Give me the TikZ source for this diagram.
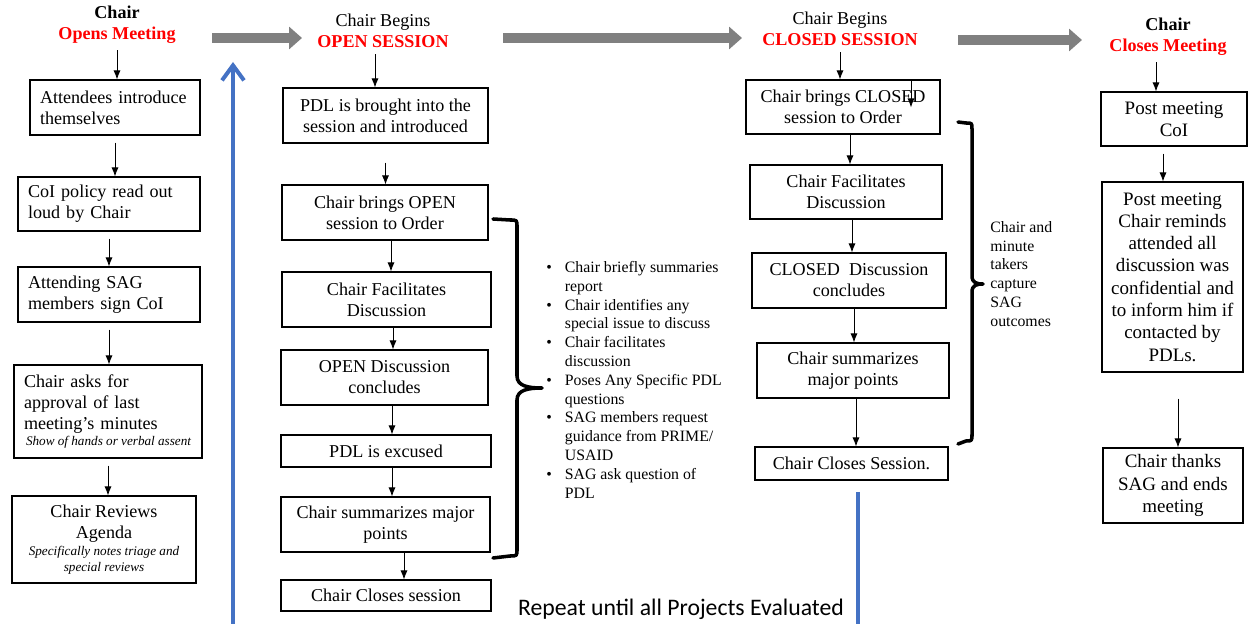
\documentclass[tikz,border=0pt]{standalone}
\usepackage{fontspec}
\setmainfont{Liberation Serif}
\newfontfamily\repeatfont{Carlito}
\usetikzlibrary{arrows.meta}
\definecolor{loopblue}{HTML}{4472C4}
\newcommand\aside[1]{{\fontsize{7.5}{9}\selectfont\itshape\spaceskip=0pt\xspaceskip=0pt #1}}

\begin{document}
\begin{tikzpicture}[x=0.02cm,y=-0.02cm,>={Latex[length=1.8mm,width=1.4mm]},
  box/.style={draw,line width=0.6pt,align=center,inner sep=1pt,font=\fontsize{10.3}{12}\selectfont},
  lbox/.style={box,align=left,inner xsep=0.2cm},
  wide/.style={box,font=\fontsize{10.8}{12.7}\selectfont},
  head/.style={align=center,font=\fontsize{10.3}{12}\selectfont},
  note/.style={align=left,inner sep=0pt,font=\fontsize{9}{10.7}\selectfont},
  flow/.style={->,line width=0.5pt},
  gapflow/.style={flow,shorten <=1.4mm},
  phase/.style={-{Triangle[length=0.26cm,width=0.44cm]},line width=0.2cm,draw=gray},
  loop/.style={-{Straight Barb[length=0.3cm,width=0.44cm]},line width=0.08cm,draw=loopblue},
  brk/.style={line width=2pt,line cap=round,line join=round}]
\useasboundingbox (0,0) rectangle (1248,624);

\node[head] (open) at (117,25) {\textbf{Chair}\\\textcolor{red}{\textbf{Opens Meeting}}};
\node[lbox,text width=3.0cm,minimum height=1.1cm] (intro) at (115,107.5) {Attendees introduce\\themselves};
\node[lbox,text width=3.24cm,minimum height=1.08cm] (policy) at (109,204) {CoI policy read out\\loud by Chair};
\node[lbox,text width=3.24cm,minimum height=1.1cm] (sign) at (109,294.5) {Attending SAG\\members sign CoI};
\node[lbox,text width=3.36cm,minimum height=1.86cm] (minutes) at (108,411.5) {Chair asks for\\approval of last\\meeting's minutes\\[-2.5pt]\mbox{\hspace*{0.04cm}\aside{Show of hands or verbal assent}}};
\node[box,minimum width=3.68cm,minimum height=1.74cm] (agenda) at (104,539.5) {Chair Reviews\\Agenda\\[-2.5pt]\aside{Specifically notes triage and}\\[-3pt]\aside{special reviews}};

\node[head] (openses) at (383,31) {Chair Begins\\\textcolor{red}{\textbf{OPEN SESSION}}};
\node[box,minimum width=4.1cm,minimum height=1.1cm] (pdlin) at (385.5,115.5) {PDL is brought into the\\session and introduced};
\node[box,minimum width=4.12cm,minimum height=1.1cm] (oorder) at (385,212.5) {Chair brings OPEN\\session to Order};
\node[box,minimum width=4.18cm,minimum height=1.1cm] (ofacil) at (386.5,299.5) {Chair Facilitates\\Discussion};
\node[box,minimum width=4.14cm,minimum height=1.1cm] (oconc) at (384.5,377.5) {OPEN Discussion\\concludes};
\node[box,minimum width=4.2cm,minimum height=0.64cm] (excuse) at (386,451) {PDL is excused};
\node[box,minimum width=4.18cm,minimum height=1.1cm] (osum) at (385.5,524.5) {Chair summarizes major\\points};
\node[box,minimum width=4.2cm,minimum height=0.62cm] (oclose) at (386,595.5) {Chair Closes session};

\node[note,anchor=north west] (points) at (546,259) {\begin{tabular}{@{}l@{\hspace{7.4pt}}l@{}}
\textbullet & Chair briefly summaries\\
 & report\\
\textbullet & Chair identifies any\\
 & special issue to discuss\\
\textbullet & Chair facilitates\\
 & discussion\\
\textbullet & Poses Any Specific PDL\\
 & questions\\
\textbullet & SAG members request\\
 & guidance from PRIME/\\
 & USAID\\
\textbullet & SAG ask question of\\
 & PDL
\end{tabular}};

\node[head] (closedses) at (840,29) {Chair Begins\\\textcolor{red}{\textbf{CLOSED SESSION}}};
\node[box,minimum width=3.88cm,minimum height=1.08cm] (corder) at (843,107) {Chair brings CLOSED\\session to Order};
\node[box,minimum width=3.84cm,minimum height=1.08cm] (cfacil) at (846,192) {Chair Facilitates\\Discussion};
\node[box,minimum width=3.88cm,minimum height=1.1cm] (cconc) at (849,280.5) {CLOSED\ \ Discussion\\concludes};
\node[box,minimum width=3.84cm,minimum height=1.1cm] (csum) at (853,370.5) {Chair summarizes\\major points};
\node[box,minimum width=3.86cm,minimum height=0.66cm] (cclose) at (851.5,463.5) {Chair Closes Session.};
\node[note,anchor=north west] (capture) at (990,221) {Chair and\\minute\\takers\\capture\\SAG\\outcomes};

\node[head] (close) at (1168,37) {\textbf{Chair}\\\textcolor{red}{\textbf{Closes Meeting}}};
\node[wide,minimum width=2.92cm,minimum height=1.08cm] (postcoi) at (1174,119) {Post meeting\\CoI};
\node[wide,minimum width=2.82cm,minimum height=3.8cm] (remind) at (1172.5,277) {Post meeting\\Chair reminds\\attended all\\discussion was\\confidential and\\to inform him if\\contacted by\\PDLs.};
\node[wide,minimum width=2.8cm,minimum height=1.5cm] (thanks) at (1173,485.5) {Chair thanks\\SAG and ends\\meeting};

\node[font=\repeatfont\fontsize{13.5}{16}\selectfont] (repeat) at (681,609) {Repeat until all Projects Evaluated};

\draw[flow] (open.south) -- (open.south |- intro.north);
\draw[gapflow] (intro.south) -- (intro.south |- policy.north);
\draw[gapflow] (policy.south) -- (policy.south |- sign.north);
\draw[gapflow] (sign.south) -- (sign.south |- minutes.north);
\draw[gapflow] (minutes.south) -- (minutes.south |- agenda.north);

\draw[flow] ([xshift=-1.6mm]openses.south) -- ([xshift=-1.6mm]openses.south |- pdlin.north);
\draw[flow,shorten <=3.8mm] (pdlin.south) -- (pdlin.south |- oorder.north);
\draw[flow] ([xshift=1.2mm]oorder.south) -- ([xshift=1.2mm]oorder.south |- ofacil.north);
\draw[flow] ([xshift=1.3mm]ofacil.south) -- ([xshift=1.3mm]ofacil.south |- oconc.north);
\draw[flow] ([xshift=1.5mm]oconc.south) -- ([xshift=1.5mm]oconc.south |- excuse.north);
\draw[flow] ([xshift=1.2mm]excuse.south) -- ([xshift=1.2mm]excuse.south |- osum.north);
\draw[flow] ([xshift=3.7mm]osum.south) -- ([xshift=3.7mm]osum.south |- oclose.north);

\draw[flow] (closedses.south) -- (closedses.south |- corder.north);
\draw[flow] ([xshift=13.6mm]corder.north) -- ++(0,28);
\draw[flow] ([xshift=1.4mm]corder.south) -- ([xshift=1.4mm]corder.south |- cfacil.north);
\draw[flow] ([xshift=1.2mm]cfacil.south) -- ([xshift=1.2mm]cfacil.south |- cconc.north);
\draw[flow] ([xshift=1mm]cconc.south) -- ([xshift=1mm]cconc.south |- csum.north);
\draw[flow] ([xshift=0.6mm]csum.south) -- ([xshift=0.6mm]csum.south |- cclose.north);

\draw[flow] ([xshift=-2.4mm]close.south) -- ([xshift=-2.4mm]close.south |- postcoi.north);
\draw[gapflow] ([xshift=-2.2mm]postcoi.south) -- ([xshift=-2.2mm]postcoi.south |- remind.north);
\draw[flow,shorten <=5.2mm] ([xshift=1.1mm]remind.south) -- ([xshift=1.1mm]remind.south |- thanks.north);

\coordinate (p1a) at (212,38);
\coordinate (p1b) at (302,38);
\coordinate (p2a) at (503,38);
\coordinate (p2b) at (742,38);
\coordinate (p3a) at (958,40);
\coordinate (p3b) at (1082,40);
\draw[phase] (p1a) -- (p1b);
\draw[phase] (p2a) -- (p2b);
\draw[phase] (p3a) -- (p3b);

\coordinate (up0) at (233,624);
\coordinate (up1) at (233,62);
\draw[loop] (up0) -- (up1);
\coordinate (down0) at (858,492);
\coordinate (down1) at (858,624);
\draw[loop,-] (down0) -- (down1);

\draw[brk] (493,219) -- (510,220) .. controls (517,220) .. (517,227) -- (517,376)
  .. controls (517,386) and (528,388) .. (542,388) .. controls (528,388) and (517,390) .. (517,400)
  -- (517,549) .. controls (517,556) .. (510,556) -- (493,558);
\draw[brk] (958,122) -- (966,123) .. controls (972,123) .. (972,129) -- (972,276)
  .. controls (972,283) and (977,284) .. (983,284) .. controls (977,284) and (972,285) .. (972,292)
  -- (972,434) .. controls (972,441) .. (966,441) -- (958,444);
\end{tikzpicture}
\end{document}
